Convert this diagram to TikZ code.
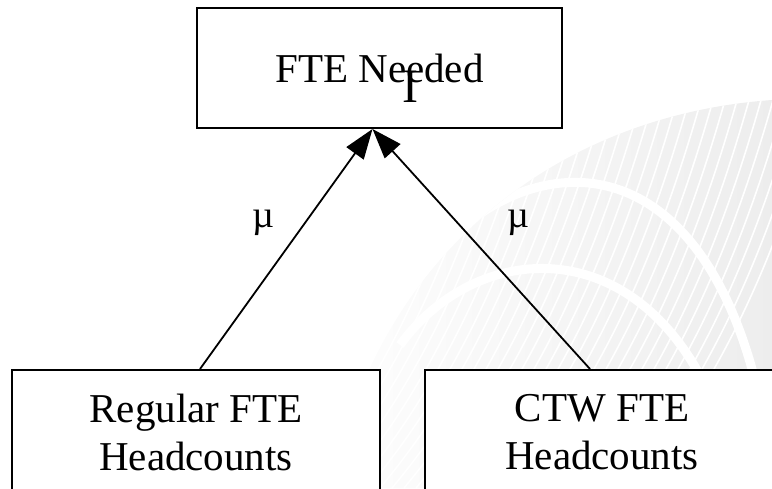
\documentclass[tikz,border=0pt]{standalone}
\usepackage{fontspec}
\setmainfont{Liberation Serif}
\usetikzlibrary{calc,arrows.meta,positioning}
\tikzstyle{fte box}=[draw,fill=white,line width=2pt,inner sep=0pt,align=center,font=\fontsize{41}{48}\selectfont]
\tikzstyle{feed}=[-{Triangle[length=30pt,width=21pt]},line width=1.8pt]
\tikzstyle{weight}=[inner sep=0pt,font=\fontsize{38}{38}\selectfont]

\begin{document}
\begin{tikzpicture}[x=1pt,y=-1pt]
        \clip (0,0) rectangle (772,488);
        % faint watermark behind the boxes
        \begin{scope}
          \clip (330,488) .. controls (380,250) and (560,115) .. (772,100) -- (772,488) -- cycle;
          \shade[left color=white,right color=black!7] (300,90) rectangle (772,488);
          \foreach \s in {-160,-148,...,640}
            \draw[white,line width=1.6pt] (\s,488) .. controls (\s+90,380) and (\s+150,250) .. (\s+200,60);
          \draw[white,line width=9pt] (430,260) .. controls (520,150) and (690,130) .. (755,380);
          \draw[white,line width=9pt] (400,345) .. controls (480,235) and (650,230) .. (720,420);
        \end{scope}
        \node at (379.5,68) [fte box,minimum width=365pt,minimum height=120pt] (needed) {FTE Needed};
        \node at (410,87) [inner sep=0pt,font=\fontsize{48}{48}\selectfont] (cursor) {I};
        \node at (196,432) [fte box,minimum width=368pt,minimum height=124pt] (regular) {Regular FTE\\Headcounts};
        \node at (602,432) [fte box,minimum width=354pt,minimum height=124pt] (ctw) {CTW FTE\\Headcounts};
        \coordinate (tip) at ($(needed.south)+(-7,0)$);
        \draw[feed] ($(regular.north)+(4,0)$) -- (tip) node[weight,pos=.61,xshift=-42pt] (mul) {µ};
        \draw[feed] ($(ctw.north)+(-12,0)$) -- (tip) node[weight,pos=.61,xshift=61pt] (mur) {µ};
      \end{tikzpicture}
\end{document}
